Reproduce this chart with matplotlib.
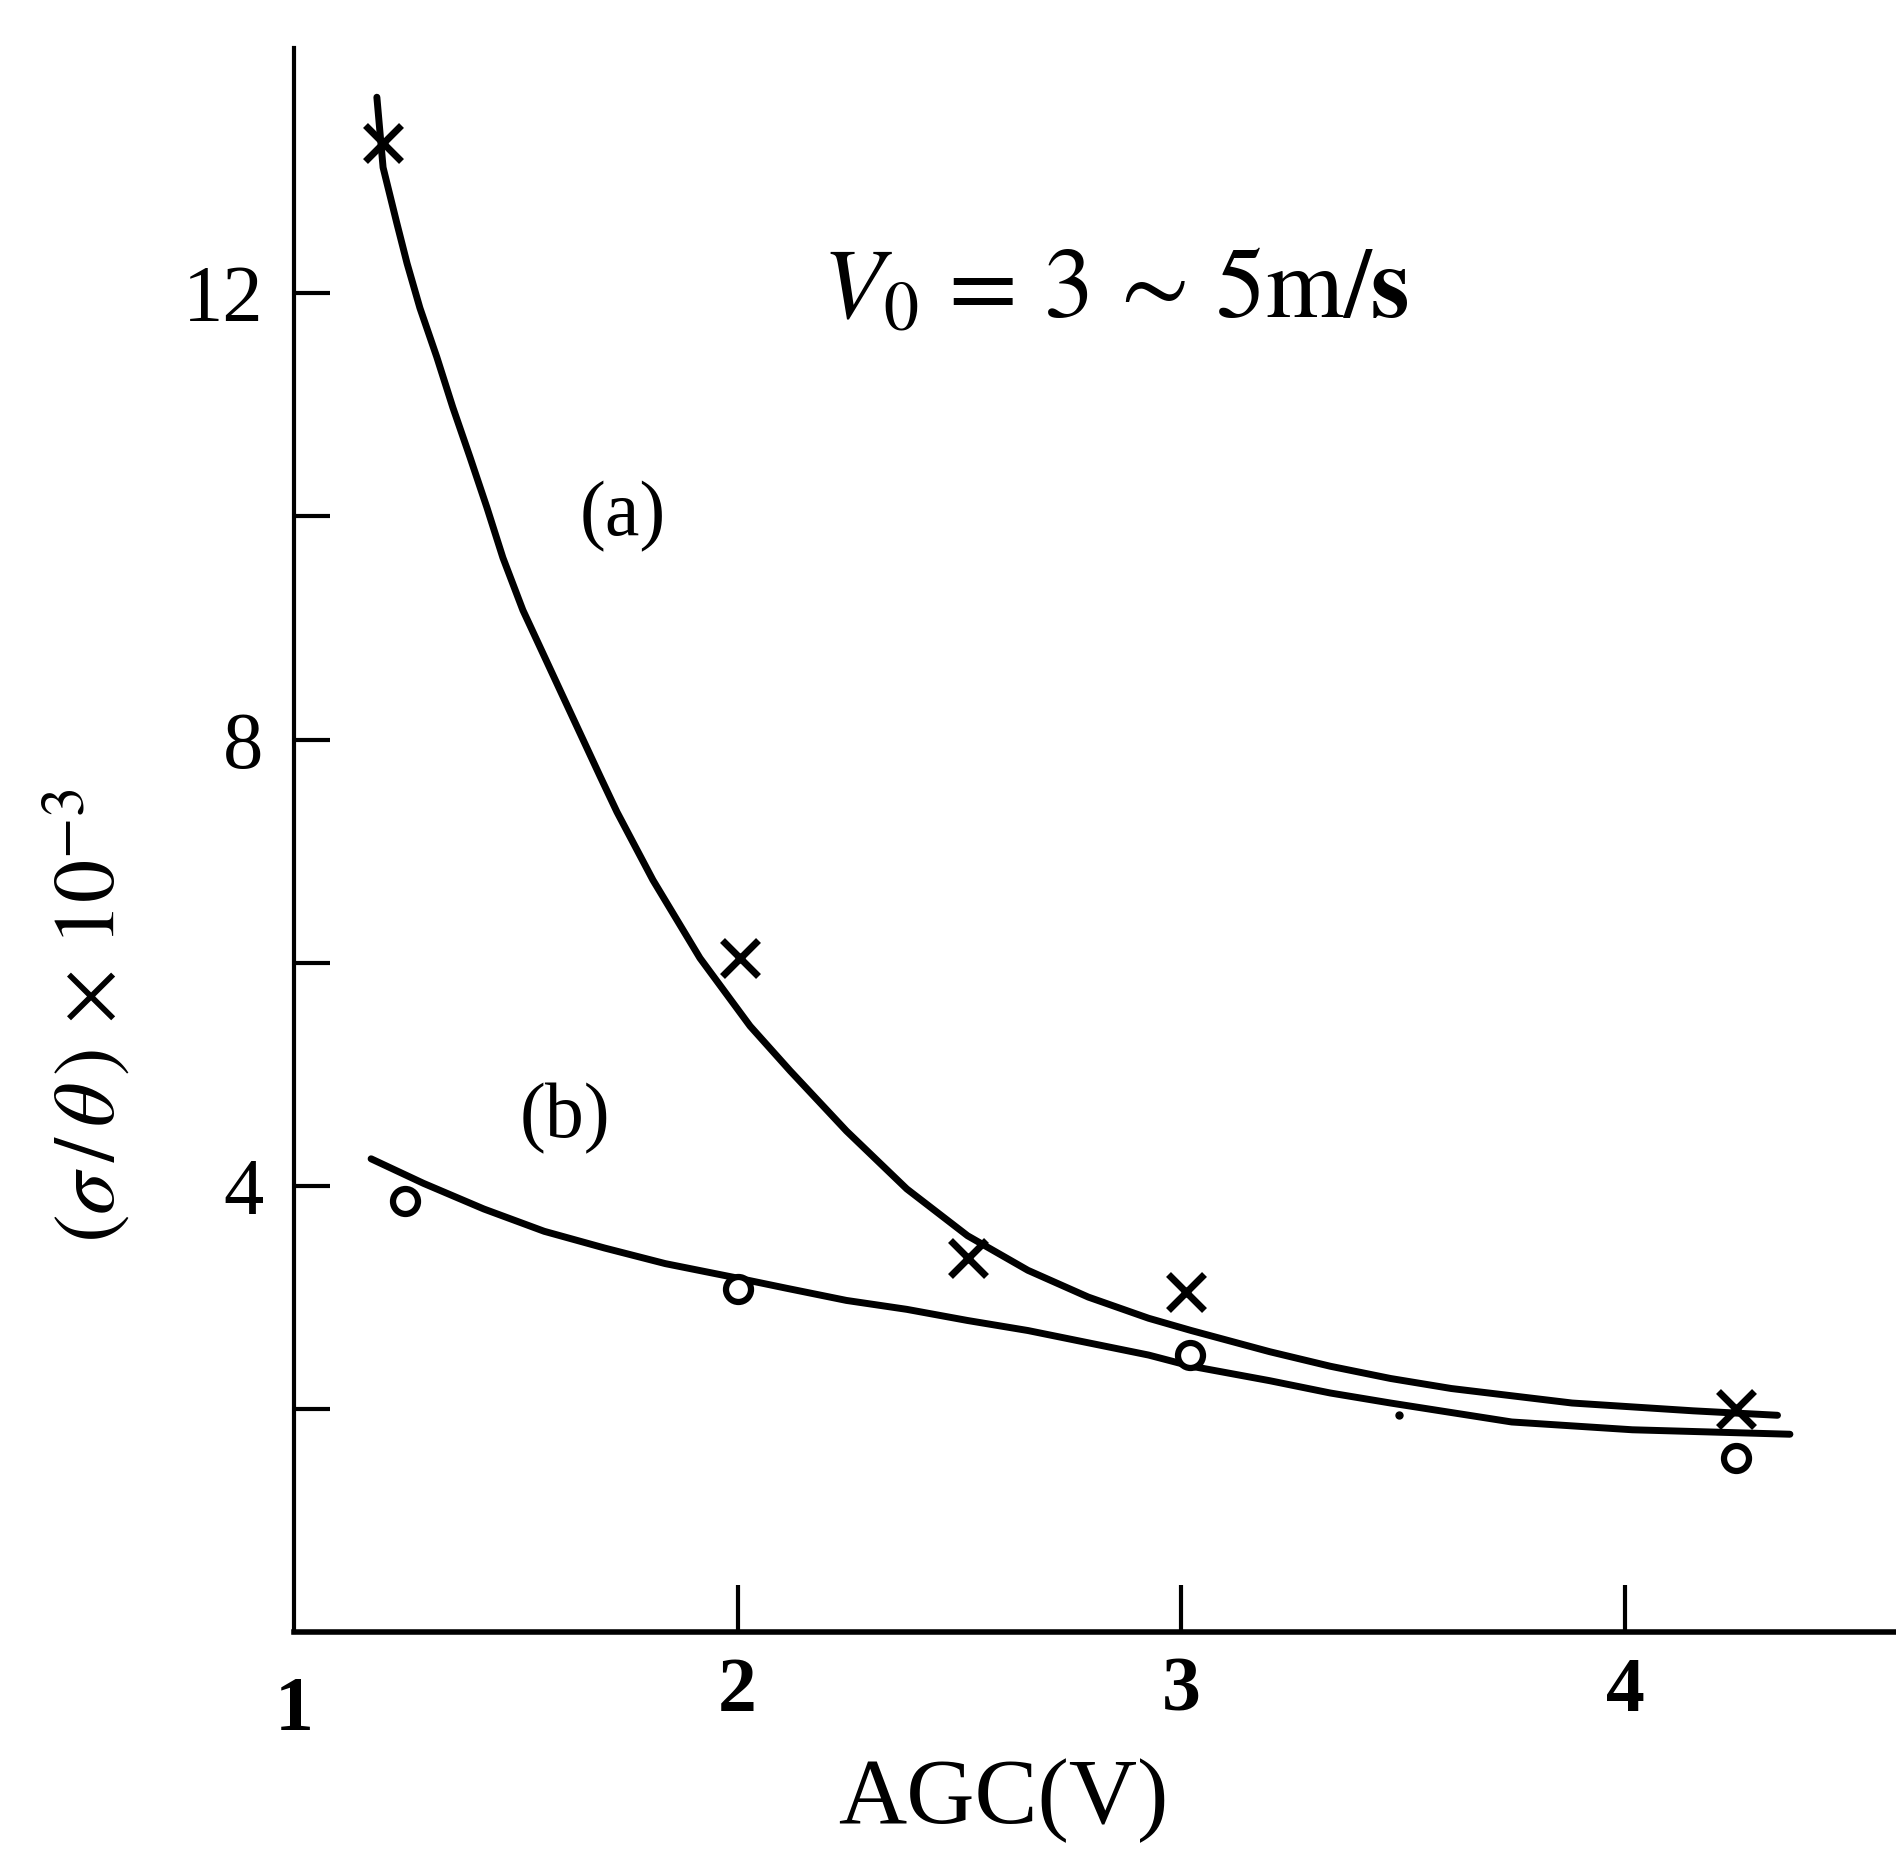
import matplotlib
matplotlib.use("Agg")
import matplotlib.pyplot as plt

# ---- data ----
a_pts_x = [1.20, 2.005, 2.52, 3.01, 4.25]
a_pts_y = [13.35, 6.04, 3.35, 3.05, 2.00]
b_pts_x = [1.25, 2.00, 3.02, 4.25]
b_pts_y = [3.86, 3.07, 2.48, 1.56]
dot_x = [3.49]
dot_y = [1.94]

a_curve_x = [1.187, 1.201, 1.232, 1.255, 1.284, 1.322, 1.358, 1.397, 1.435, 1.471,
             1.516, 1.600, 1.690, 1.728, 1.809, 1.915, 2.028, 2.118, 2.245, 2.381,
             2.518, 2.654, 2.790, 2.926, 3.022, 3.199, 3.335, 3.471, 3.608, 3.880,
             4.153, 4.343]
a_curve_y = [13.76, 13.13, 12.63, 12.27, 11.87, 11.43, 10.98, 10.53, 10.08, 9.63,
             9.16, 8.44, 7.67, 7.35, 6.74, 6.04, 5.43, 5.03, 4.49, 3.97,
             3.55, 3.24, 3.00, 2.81, 2.70, 2.51, 2.38, 2.27, 2.18, 2.05,
             1.98, 1.94]
b_curve_x = [1.174, 1.292, 1.428, 1.564, 1.700, 1.837, 2.000, 2.109, 2.245, 2.381,
             2.518, 2.654, 2.790, 2.926, 3.022, 3.199, 3.335, 3.471, 3.744, 4.016, 4.371]
b_curve_y = [4.24, 4.02, 3.79, 3.59, 3.44, 3.30, 3.17, 3.08, 2.97, 2.89,
             2.79, 2.70, 2.59, 2.48, 2.38, 2.25, 2.14, 2.05, 1.88, 1.81, 1.77]

x_ticks = [2, 3, 4]
x_ticklabels = ["2", "3", "4"]
y_ticks = [2, 4, 6, 8, 10, 12]
y_ticklabels = ["", "4", "", "8", "", "12"]

plt.rcParams['font.family'] = ['Liberation Serif', 'DejaVu Serif']
plt.rcParams['mathtext.fontset'] = 'stix'

fig = plt.figure(figsize=(18.96, 18.52), dpi=100)
ax = fig.add_axes([0.155, 0.119, 0.845, 0.855])
ax.set_xlim(1.0, 4.61)
ax.set_ylim(0, 14.2)

ax.plot(a_curve_x, a_curve_y, color='black', lw=5, solid_capstyle='round', solid_joinstyle='round')
ax.plot(b_curve_x, b_curve_y, color='black', lw=5, solid_capstyle='round', solid_joinstyle='round')
ax.plot(a_pts_x, a_pts_y, ls='none', marker='x', ms=26, mew=5, color='black')
ax.plot(b_pts_x, b_pts_y, ls='none', marker='o', ms=18, mew=4.5, mfc='white', mec='black')
ax.plot(dot_x, dot_y, ls='none', marker='o', ms=5, color='black')

for s in ['top', 'right']:
    ax.spines[s].set_visible(False)
ax.spines['left'].set_linewidth(3)
ax.spines['bottom'].set_linewidth(4)

ax.set_xticks(x_ticks)
ax.set_xticklabels(x_ticklabels, fontsize=56, fontweight='bold')
ax.set_yticks(y_ticks)
ax.set_yticklabels(y_ticklabels, fontsize=58)
ax.tick_params(axis='x', direction='in', length=34, width=3, pad=18)
ax.tick_params(axis='y', direction='in', length=26, width=3, pad=22)

# the "1" at the corner
ax.text(1.0, -0.4, "1", ha='center', va='top', fontsize=56, fontweight='bold')

ax.set_xlabel("AGC(V)", fontsize=68)
ax.xaxis.label.set_va('center')
ax.xaxis.set_label_coords(0.443, -0.107)
ax.set_ylabel(r"$(\sigma\,/\,\theta\,)\,\times\,10^{-3}$", fontsize=62)
ax.yaxis.label.set_va('center')
ax.yaxis.set_label_coords(-0.129, 0.389)

ax.text(2.19, 12.0, r"$V_{0}\,=\,3\,\sim\,5\mathrm{m}/\mathbf{s}$", fontsize=72, ha='left', va='center')
ax.text(1.74, 10.0, "(a)", fontsize=56, ha='center', va='center')
ax.text(1.61, 4.6, "(b)", fontsize=56, ha='center', va='center')

fig.savefig("out.png", dpi=100, facecolor='white')
